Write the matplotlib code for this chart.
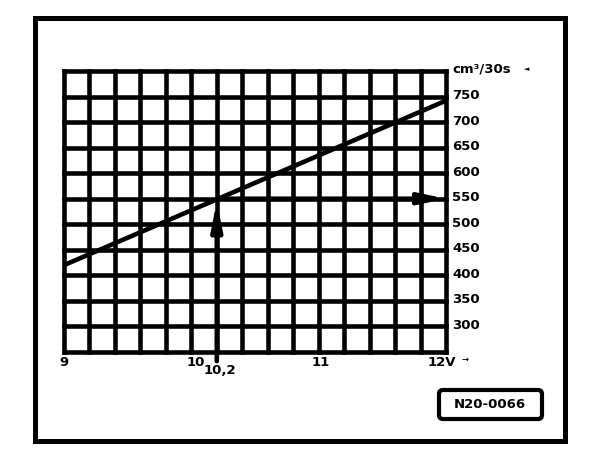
import numpy as np
import matplotlib
matplotlib.use("Agg")
import matplotlib.pyplot as plt
from matplotlib.patches import Rectangle, FancyBboxPatch
from matplotlib.transforms import IdentityTransform

# ---- data ----
voltage = [9.0, 12.0]          # V
flow = [420, 742]              # cm3/30s
read_voltage = 10.2
read_flow = 550
x_tick_vals = [9, 10, 11, 12]
x_tick_labels = ["9", "10", "11", "12V"]
y_tick_vals = [750, 700, 650, 600, 550, 500, 450, 400, 350, 300]
y_unit = "cm³/30s"
ref_code = "N20-0066"

plt.rcParams['font.family'] = ['DejaVu Sans']
W, H = 608, 456
fig = plt.figure(figsize=(W / 100, H / 100), dpi=100)
fig.patch.set_facecolor('white')

L, R, T, B = 64, 446, 72, 353
ax = fig.add_axes([L / W, 1 - B / H, (R - L) / W, (B - T) / H])
ax.set_xlim(9, 12)
ax.set_ylim(250, 800)
ax.set_axis_off()

LW = 3.3
for xv in np.arange(9, 12.0001, 0.2):
    ax.axvline(xv, color='k', lw=LW, clip_on=False, solid_capstyle='projecting')
for yv in np.arange(250, 800.001, 50):
    ax.axhline(yv, color='k', lw=LW, clip_on=False, solid_capstyle='projecting')

# characteristic line
ax.plot(voltage, flow, color='k', lw=LW, solid_capstyle='butt')

# reading arrows
ax.annotate('', xy=(read_voltage, read_flow - 5), xytext=(read_voltage, 232),
            arrowprops=dict(arrowstyle='-|>,head_length=1.6,head_width=0.32',
                            lw=LW, color='k', shrinkA=0, shrinkB=0,
                            mutation_scale=10),
            annotation_clip=False)
ax.annotate('', xy=(12, read_flow), xytext=(read_voltage, read_flow),
            arrowprops=dict(arrowstyle='-|>,head_length=1.5,head_width=0.32',
                            lw=LW, color='k', shrinkA=0, shrinkB=0,
                            mutation_scale=10),
            annotation_clip=False)

fs = 9.5
txt = dict(fontsize=fs, fontweight='bold', color='k', annotation_clip=False)

# x labels
x_offsets = {"9": (0, -10), "10": (4, -9), "11": (2, -9)}
for v, lab in zip(x_tick_vals, x_tick_labels):
    if lab == "12V":
        ax.annotate(lab, xy=(v, 250), xytext=(-18, -9), textcoords='offset pixels',
                    ha='left', va='center', **txt)
        ax.annotate('→', xy=(v, 250), xytext=(16, -6), textcoords='offset pixels',
                    ha='left', va='center', fontsize=6, fontweight='bold',
                    color='k', annotation_clip=False)
    else:
        dx, dy = x_offsets[lab]
        ax.annotate(lab, xy=(v, 250), xytext=(dx, dy), textcoords='offset pixels',
                    ha='center', va='center', **txt)
ax.annotate(str(read_voltage).replace('.', ','), xy=(read_voltage, 250),
            xytext=(3, -18), textcoords='offset pixels',
            ha='center', va='center', **txt)

# y labels
for v in y_tick_vals:
    ax.annotate(str(v), xy=(12, v), xytext=(6, -1.5), textcoords='offset pixels',
                ha='left', va='baseline', **txt)
ax.annotate(y_unit, xy=(12, 800), xytext=(6, 0), textcoords='offset pixels',
            ha='left', va='baseline', **txt)
ax.annotate('◄', xy=(12, 800), xytext=(78, 1), textcoords='offset pixels',
            ha='left', va='baseline', fontsize=5, color='k', annotation_clip=False)

# outer frame
fig.patches.append(Rectangle((34.5, H - 442), 530, 423.5, transform=IdentityTransform(),
                             fill=False, lw=3.6, ec='k'))
# reference code box
fig.patches.append(FancyBboxPatch((439, H - 420), 103, 29,
                                  boxstyle='round,pad=0,rounding_size=4',
                                  transform=IdentityTransform(),
                                  fill=False, lw=3, ec='k'))
fig.text(490, H - 405, ref_code, transform=IdentityTransform(), ha='center',
         va='center', fontsize=9.5, fontweight='bold', color='k')

fig.savefig('out.png', dpi=100)
